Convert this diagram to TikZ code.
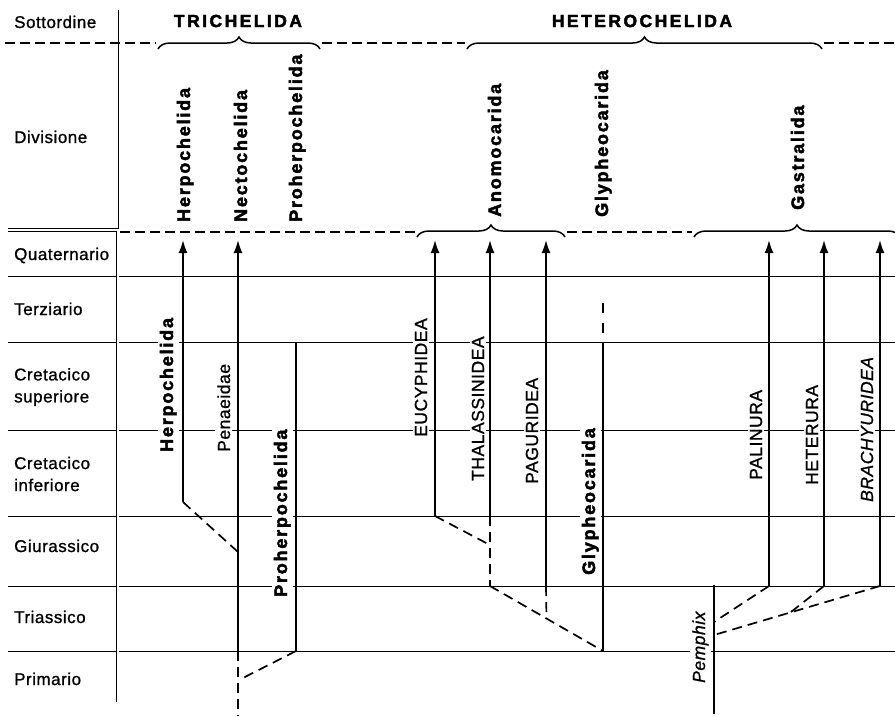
\documentclass[tikz,border=0pt]{standalone}
\usepackage{fontspec}
\setmainfont{Liberation Sans}[LetterSpace=3,FakeBold=1]
\newfontfamily\titlefont{Liberation Sans}[LetterSpace=14,BoldFeatures={FakeBold=2.5}]
\newfontfamily\namefont{Liberation Sans}[LetterSpace=10,BoldFeatures={FakeBold=2.5}]
\usetikzlibrary{arrows.meta,calc,decorations.pathreplacing}

\begin{document}
\begin{tikzpicture}[x=1pt,y=-1pt,
  period/.style={anchor=west,align=left,inner sep=0pt,font=\fontsize{17}{22}\selectfont},
  suborder/.style={inner sep=0pt,font=\titlefont\bfseries\fontsize{17.5}{17.5}\selectfont},
  division/.style={rotate=90,anchor=base west,inner sep=2pt,fill=white,font=\namefont\bfseries\fontsize{18}{18}\selectfont},
  taxon/.style={rotate=90,anchor=base west,inner sep=2pt,fill=white,font=\fontsize{17.5}{17.5}\selectfont},
  grid/.style={line width=0.7pt},
  frame/.style={line width=0.9pt},
  limit/.style={line width=1.2pt,dash pattern=on 10pt off 5pt},
  lineage/.style={line width=1.8pt},
  evolves/.style={lineage,-{Latex[length=13pt,width=9pt]}},
  link/.style={line width=1.7pt,dash pattern=on 10pt off 6pt},
  group brace/.style={line width=1.5pt,decorate,decoration={brace,amplitude=12pt}}
]
\useasboundingbox (0,0) rectangle (895,716);

% table frame
\foreach \y in {276,342,430,516,586,651}
  \draw[grid] (8,\y) -- (895,\y);
\draw[frame] (118,10) -- (118,230);
\draw[frame,double,double distance=2pt] (8,230) -- (117.5,230) -- (117.5,702);
\draw[limit] (5,43) -- (156,43) (322,43) -- (465,43) (824,43) -- (895,43);
\draw[limit] (120,232) -- (415,232) (567,232) -- (692,232);

% periods
\node[period,anchor=base west] (sottordine) at (14,28) {Sottordine};
\node[period,anchor=base west] (divisione) at (14,143) {Divisione};
\node[period,anchor=base west] (quaternario) at (14,260) {Quaternario};
\node[period,anchor=base west] (terziario) at (14,315) {Terziario};
\node[period] (cretsup) at (14,387) {Cretacico\\superiore};
\node[period] (cretinf) at (14,474) {Cretacico\\inferiore};
\node[period,anchor=base west] (giurassico) at (14,552) {Giurassico};
\node[period,anchor=base west] (triassico) at (14,623) {Triassico};
\node[period,anchor=base west] (primario) at (14,685) {Primario};

% suborders and divisions
\node[suborder] (trichelida) at (238,21) {TRICHELIDA};
\node[suborder] (heterochelida) at (642,21) {HETEROCHELIDA};
\draw[group brace] (158,49) -- (320,49);
\draw[group brace] (467,49) -- (822,49);
\draw[group brace] (417,237) -- (565,237);
\draw[group brace] (694,237) -- (900,237);

\node[division] (dHerpo) at (190,224) {Herpochelida};
\node[division] (dNecto) at (247,224) {Nectochelida};
\node[division] (dProherpo) at (302,224) {Proherpochelida};
\node[division] (dAnomo) at (501,219) {Anomocarida};
\node[division] (dGlypheo) at (608,219) {Glypheocarida};
\node[division] (dGastr) at (804,212) {Gastralida};

% taxa
\node[division] (herpo) at (173,454) {Herpochelida};
\node[division] (proherpo) at (287,599) {Proherpochelida};
\node[division] (glypheo) at (595,577) {Glypheocarida};
\node[taxon] (penaeidae) at (230,454) {Penaeidae};
\node[taxon] (eucyphidea) at (427,439) {EUCYPHIDEA};
\node[taxon] (thalassinidea) at (484,483) {THALASSINIDEA};
\node[taxon] (paguridea) at (538,486) {PAGURIDEA};
\node[taxon] (palinura) at (762,482) {PALINURA};
\node[taxon] (heterura) at (818,487) {HETERURA};
\node[taxon] (brachyuridea) at (873,504) {\itshape BRACHYURIDEA};
\node[taxon] (pemphix) at (705,685) {\itshape Pemphix};

% lineages
\coordinate (herpoTop) at (183,240);
\coordinate (herpoBend) at (183,502);
\coordinate (nectoTop) at (238,240);
\coordinate (nectoJoin) at (238,552);
\coordinate (nectoBase) at (238,651);
\coordinate (nectoEnd) at (238,716);
\coordinate (nectoMeet) at (239,680);
\coordinate (proTop) at (296,342);
\coordinate (proBase) at (296,651);
\coordinate (eucTop) at (435,240);
\coordinate (eucBase) at (435,516);
\coordinate (thalTop) at (490,240);
\coordinate (thalMid) at (490,516);
\coordinate (thalJoin) at (490,545);
\coordinate (thalBase) at (490,586);
\coordinate (pagTop) at (546,240);
\coordinate (pagBase) at (546,586);
\coordinate (glyDash) at (603,303);
\coordinate (glyTop) at (603,342);
\coordinate (glyBase) at (603,651);
\coordinate (pagJoin) at ($(thalBase)!0.5!(glyBase)$);
\coordinate (pemTop) at (714,585);
\coordinate (pemEnd) at (714,714);
\coordinate (pemUpper) at (714,622);
\coordinate (pemLower) at (714,635);
\coordinate (palTop) at (769,240);
\coordinate (palBase) at (769,586);
\coordinate (hetTop) at (824,240);
\coordinate (hetBase) at (824,586);
\coordinate (braTop) at (880,240);
\coordinate (braBase) at (880,586);
\coordinate (hetJoin) at ($(braBase)!0.54!(pemLower)$);

\draw[evolves] (herpoBend) -- (herpoTop);
\draw[link] (herpoBend) -- (nectoJoin);
\draw[evolves] (nectoBase) -- (nectoTop);
\draw[link] (nectoBase) -- (nectoEnd);
\draw[lineage] (proTop) -- (proBase);
\draw[link] (proBase) -- (nectoMeet);
\draw[evolves] (eucBase) -- (eucTop);
\draw[link] (eucBase) -- (thalJoin);
\draw[evolves] (thalMid) -- (thalTop);
\draw[link] (thalMid) -- (thalBase);
\draw[link] (thalBase) -- (glyBase);
\draw[evolves] (pagBase) -- (pagTop);
\draw[link] (pagBase) -- (pagJoin);
\draw[link,dash pattern=on 10pt off 10pt] (glyDash) -- (glyTop);
\draw[lineage] (glyTop) -- (glyBase);
\draw[lineage] (pemTop) -- (pemEnd);
\draw[evolves] (palBase) -- (palTop);
\draw[link] (palBase) -- (pemUpper);
\draw[evolves] (hetBase) -- (hetTop);
\draw[link] (hetBase) -- (hetJoin);
\draw[evolves] (braBase) -- (braTop);
\draw[link] (braBase) -- (pemLower);
\end{tikzpicture}
\end{document}
